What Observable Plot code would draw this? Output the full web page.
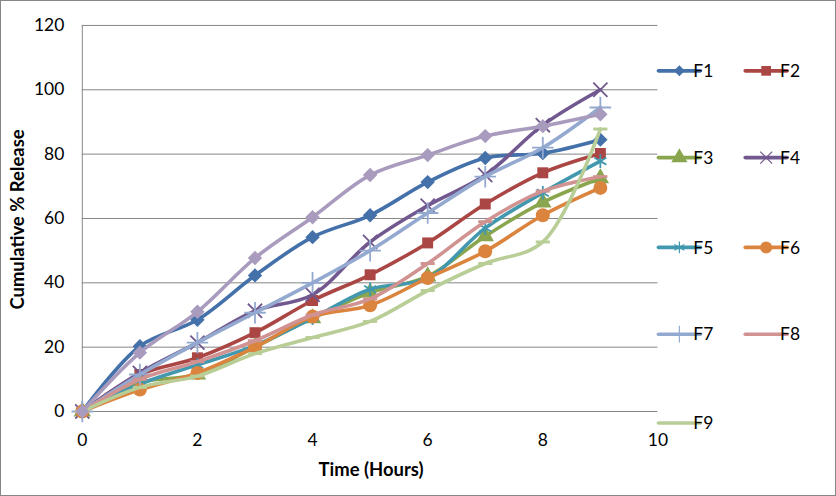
<!DOCTYPE html>
<html>
<head>
<meta charset="utf-8">
<script src="https://cdn.jsdelivr.net/npm/d3@7"></script>
<script src="https://cdn.jsdelivr.net/npm/@observablehq/plot@0.6"></script>
<style>
  html, body { margin: 0; padding: 0; background: #fff; }
  #chart { width: 836px; height: 496px; box-sizing: border-box; border: 1px solid #868686; position: relative; overflow: hidden; }
  #chart svg { position: absolute; left: -1px; top: -1px; }
</style>
</head>
<body>
<div id="chart"></div>
<script>
const time = [0, 1, 2, 3, 4, 5, 6, 7, 8, 9];
const F1 = [0, 20.3, 28.5, 42.3, 54.2, 61, 71.3, 78.8, 80.3, 84.5];
const F2 = [0, 11.5, 16.7, 24.5, 34.5, 42.5, 52.4, 64.5, 74.2, 80.2];
const F3 = [0, 9, 11.5, 20, 29, 37, 42, 54.5, 65, 72.5];
const F4 = [0, 12, 21.4, 31.3, 36.3, 52.7, 64, 73.5, 89, 100];
const F5 = [0, 8.5, 14.5, 20.5, 29, 38, 41.5, 57, 68, 77.8];
const F6 = [0, 6.8, 12, 20, 29.5, 33, 41.5, 49.8, 61, 69.5];
const F7 = [0, 11.5, 21.4, 30.7, 40, 50, 61.7, 73, 82, 94.5];
const F8 = [0, 10, 15.5, 22, 30, 35, 46, 59, 68.5, 73];
const F9 = [0, 7.5, 11, 18, 23, 28, 37.6, 46, 52.7, 87.8];
const F10 = [0, 18.3, 31, 47.7, 60.4, 73.5, 79.7, 85.6, 88.7, 92.4];
const seriesNames = ["F1", "F2", "F3", "F4", "F5", "F6", "F7", "F8", "F9", "F10"];
const seriesValues = [F1, F2, F3, F4, F5, F6, F7, F8, F9, F10];
const colors = ["#4471AA", "#AA4643", "#89A54E", "#71588F", "#4198AF", "#DB843D", "#93A9CF", "#D19392", "#B9CD96", "#A99BBD"];
const yTicks = [0, 20, 40, 60, 80, 100, 120];
const xTicks = [0, 2, 4, 6, 8, 10];

const dash = { draw(ctx, size) { const w = Math.sqrt(size) * 1.6, h = 3; ctx.rect(-w / 2, -h / 2, w, h); } };
const symbols = ["diamond2", "square", "triangle", "times", "asterisk", "circle", "plus", dash, dash, "diamond2"];
const filled = [true, true, true, false, false, true, false, true, true, true];
const radii = [6.5, 6.2, 6.5, 6.5, 6.5, 7, 7, 5, 5, 6.5];

const FONT = "Lato, 'Open Sans', sans-serif";

const marks = [
  Plot.ruleY(yTicks, { stroke: "#868686", strokeWidth: 1 }),
  Plot.ruleX([0], { stroke: "#868686", strokeWidth: 1 })
];
seriesNames.forEach((name, i) => {
  const rows = time.map((t, j) => ({ t, v: seriesValues[i][j] }));
  marks.push(Plot.line(rows, { x: "t", y: "v", stroke: colors[i], strokeWidth: 3.6, curve: "catmull-rom" }));
  marks.push(Plot.dot(rows, filled[i]
    ? { x: "t", y: "v", symbol: () => symbols[i], r: radii[i], fill: colors[i], stroke: "none" }
    : { x: "t", y: "v", symbol: () => symbols[i], r: radii[i], fill: "none", stroke: colors[i], strokeWidth: 1.8 }));
});

const plot = Plot.plot({
  width: 836,
  height: 496,
  marginLeft: 82,
  marginRight: 177,
  marginTop: 25,
  marginBottom: 84,
  style: { fontFamily: FONT, fontSize: "17.5px", color: "#000", background: "transparent", overflow: "visible" },
  symbol: { type: "identity" },
  x: { domain: [0, 10], ticks: xTicks, tickSize: 0, tickPadding: 22, label: null },
  y: { domain: [0, 120], ticks: yTicks, tickSize: 0, tickPadding: 18, label: null },
  marks
});
document.getElementById("chart").appendChild(plot);

const svg = d3.select(plot);
svg.selectAll("[aria-label='x-axis tick label'] text, [aria-label='y-axis tick label'] text").attr("fill", "#000");

svg.append("text").attr("x", 372).attr("y", 477).attr("text-anchor", "middle")
  .attr("font-family", FONT).attr("font-size", 18.5).attr("font-weight", "bold").text("Time (Hours)");
svg.append("text").attr("transform", "translate(24,220) rotate(-90)").attr("text-anchor", "middle")
  .attr("font-family", FONT).attr("font-size", 18.5).attr("font-weight", "bold").text("Cumulative % Release");

// legend (F1–F9 as shown in the reference)
const legendPos = [[660, 71], [747, 71], [660, 158], [747, 158], [660, 248], [747, 248], [660, 335], [747, 335], [660, 424]];
const legendSym = ["diamond2", "square", "triangle", "times", "asterisk", "circle", "plus", null, null];
const legendR = [5, 5.5, 6, 5.5, 5.5, 6, 5.5, 0, 0];
const symMap = { diamond2: d3.symbolDiamond2, square: d3.symbolSquare, triangle: d3.symbolTriangle, times: d3.symbolTimes, asterisk: d3.symbolAsterisk, circle: d3.symbolCircle, plus: d3.symbolPlus };
const lg = svg.append("g").attr("font-family", FONT).attr("font-size", 17.5);
legendPos.forEach(([x, y], i) => {
  lg.append("line").attr("x1", x).attr("x2", x + 42).attr("y1", y).attr("y2", y)
    .attr("stroke", colors[i]).attr("stroke-width", 3.6).attr("stroke-linecap", "round");
  if (legendSym[i]) {
    const p = d3.symbol(symMap[legendSym[i]], legendR[i] * legendR[i] * Math.PI)();
    const el = lg.append("path").attr("d", p).attr("transform", `translate(${x + 21},${y})`);
    if (filled[i]) el.attr("fill", colors[i]);
    else el.attr("fill", "none").attr("stroke", colors[i]).attr("stroke-width", 1.2);
  }
  lg.append("text").attr("x", x + 45).attr("y", y).attr("dy", "0.35em").attr("fill", "#000").text(seriesNames[i]);
});
</script>
</body>
</html>
